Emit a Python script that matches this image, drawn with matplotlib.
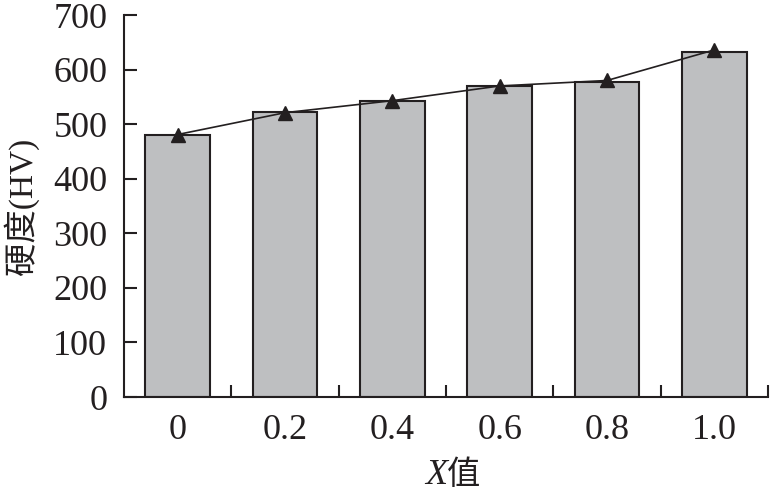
import numpy as np
import matplotlib.pyplot as plt

# data
x_labels = ['0', '0.2', '0.4', '0.6', '0.8', '1.0']
bar_hv = [480, 522, 543, 569, 577, 633]
line_hv = [481, 521, 543, 570, 580, 636]

plt.rcParams['font.family'] = ['Liberation Serif', 'Noto Sans CJK SC']

fig = plt.figure(figsize=(7.71, 4.92), dpi=100)
ax = fig.add_axes([124/771, 1 - 397/492, (768 - 124)/771, (397 - 15)/492])

x = np.arange(len(x_labels))
ax.bar(x, bar_hv, width=0.6, color='#bebfc1', edgecolor='#231f20', linewidth=1.5, zorder=2)
ax.plot(x, line_hv, color='#231f20', linewidth=1.2, marker='^', markersize=10, zorder=3)

ax.set_xlim(-0.5, 5.5)
ax.set_ylim(0, 700)
ax.set_yticks(np.arange(0, 701, 100))
ax.set_xticks(x)
ax.set_xticklabels(x_labels)
ax.set_xticks(np.arange(0.5, 5.6, 1), minor=True)
ax.tick_params(axis='x', which='major', length=0, pad=12, labelsize=26, colors='#231f20')
ax.tick_params(axis='x', which='minor', direction='in', length=9, width=1.5, color='#231f20')
ax.tick_params(axis='y', direction='in', length=9, width=1.5, pad=12, labelsize=26, colors='#231f20')

for s in ['top', 'right']:
    ax.spines[s].set_visible(False)
for s in ['left', 'bottom']:
    ax.spines[s].set_linewidth(1.5)
    ax.spines[s].set_color('#231f20')

ax.set_ylabel('硬度(HV)', fontsize=24, labelpad=10, color='#231f20')

# x label: italic X followed by 值
fig.text(447/771, 1 - 484/492, 'X', fontsize=26, style='italic', ha='right', va='baseline', color='#231f20')
fig.text(447/771, 1 - 484/492, '值', fontsize=24, ha='left', va='baseline', color='#231f20',
         family=['Noto Sans CJK SC'])

fig.savefig('out.png', dpi=100)
